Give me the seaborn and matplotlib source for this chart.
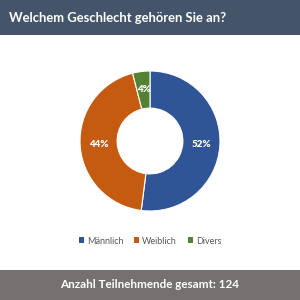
import matplotlib
matplotlib.use("Agg")
import matplotlib.pyplot as plt
import seaborn as sns
from matplotlib.patches import Rectangle

sns.set_theme(style="white")
plt.rcParams['font.family'] = ['Lato', 'DejaVu Sans']

categories = ["Männlich", "Weiblich", "Divers"]
values = [52, 44, 4]
colors = ["#2F5597", "#C55A11", "#548235"]
title = "Welchem Geschlecht gehören Sie an?"
footer = "Anzahl Teilnehmende gesamt: 124"

fig = plt.figure(figsize=(3, 3), dpi=100)
fig.patch.set_facecolor("white")

# banners
fig.patches.append(Rectangle((0, 1 - 35/300), 1, 35/300, transform=fig.transFigure,
                             facecolor="#44546A", edgecolor="none", zorder=0))
fig.patches.append(Rectangle((0, 0), 1, 30/300, transform=fig.transFigure,
                             facecolor="#767171", edgecolor="none", zorder=0))
fig.text(9/300, 1 - 18/300, title, color="white", fontsize=9.4, fontweight="bold",
         ha="left", va="center")
fig.text(0.5, 15/300, footer, color="white", fontsize=8.4, fontweight="bold",
         ha="center", va="center")

# donut: center (150,141), radius 70
r = 70
ax = fig.add_axes([(150 - r)/300, 1 - (141 + r)/300, 2*r/300, 2*r/300])
wedges, texts, autotexts = ax.pie(values, colors=colors, startangle=90, counterclock=False,
                                  radius=1.0, autopct=lambda p: f"{p:.0f}%",
                                  pctdistance=0.74,
                                  wedgeprops=dict(width=0.53, edgecolor="white", linewidth=0.8),
                                  textprops=dict(color="white", fontsize=7, fontweight="heavy"))
ax.set_xlim(-1, 1)
ax.set_ylim(-1, 1)
ax.set_aspect("equal")
ax.axis("off")

handles = [Rectangle((0, 0), 1, 1, facecolor=c, edgecolor="none") for c in colors]
fig.legend(handles, categories, loc="center", bbox_to_anchor=(0.5, 1 - 241/300),
           ncol=3, frameon=False, fontsize=6.5, handlelength=0.6, handleheight=0.6,
           handletextpad=0.3, columnspacing=1.2, labelcolor="#595959")

fig.savefig("out.png", dpi=100)
